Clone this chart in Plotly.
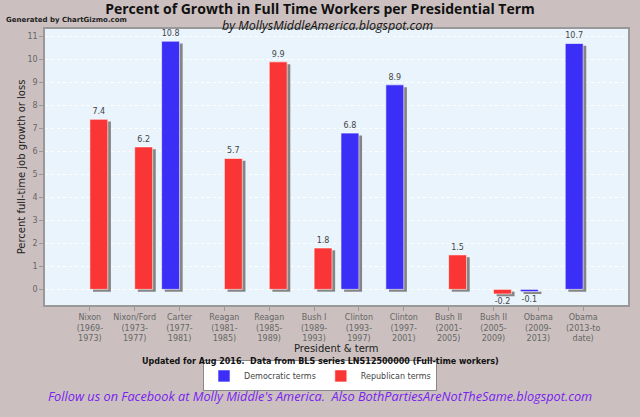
import plotly.graph_objects as go

presidents = ["Nixon", "Nixon/Ford", "Carter", "Reagan", "Reagan", "Bush I",
              "Clinton", "Clinton", "Bush II", "Bush II", "Obama", "Obama"]
terms = ["(1969-<br>1973)", "(1973-<br>1977)", "(1977-<br>1981)", "(1981-<br>1985)",
         "(1985-<br>1989)", "(1989-<br>1993)", "(1993-<br>1997)", "(1997-<br>2001)",
         "(2001-<br>2005)", "(2005-<br>2009)", "(2009-<br>2013)", "(2013-to<br>date)"]
growth = [7.4, 6.2, 10.8, 5.7, 9.9, 1.8, 6.8, 8.9, 1.5, -0.2, -0.1, 10.7]
party = ["R", "R", "D", "R", "R", "R", "D", "D", "R", "R", "D", "D"]

labels = [f"{p}<br>{t}" for p, t in zip(presidents, terms)]

BG = "#CBC0BF"
PLOT_BG = "#EAF4FD"
CHART_FONT = "DejaVu Sans"

series = {
    "D": dict(name="Democratic terms", color="#3A2EF7", offset=-0.4),
    "R": dict(name="Republican terms", color="#FA3535", offset=0.0),
}

fig = go.Figure()

# drop shadows first so the coloured bars sit on top
for key, s in series.items():
    xs = [l for l, p in zip(labels, party) if p == key]
    ys = [g for g, p in zip(growth, party) if p == key]
    fig.add_trace(go.Bar(x=xs, y=ys, base=-0.1, width=0.4, offset=s["offset"] + 0.07,
                         marker=dict(color="#858585", line_width=0),
                         showlegend=False, hoverinfo="skip"))

for key, s in series.items():
    xs = [l for l, p in zip(labels, party) if p == key]
    ys = [g for g, p in zip(growth, party) if p == key]
    fig.add_trace(go.Bar(x=xs, y=ys, name=s["name"], width=0.4, offset=s["offset"],
                         marker=dict(color=s["color"], line=dict(color="#FFFFFF", width=0.6)),
                         text=[f"{v:g}" for v in ys], textposition="outside",
                         textfont=dict(size=8, color="#444444", family=CHART_FONT),
                         cliponaxis=False))

fig.update_layout(
    width=640, height=417,
    margin=dict(l=45, r=12, t=29, b=112, autoexpand=False),
    paper_bgcolor=BG, plot_bgcolor=PLOT_BG,
    barmode="overlay",
    font=dict(family=CHART_FONT, size=8, color="#555555"),
    title=dict(text="<b>Percent of Growth in Full Time Workers per Presidential Term</b>",
               x=0.5, xanchor="center", y=1 - 9 / 417, yanchor="middle",
               font=dict(family="Open Sans", size=14, color="#111111")),
    legend=dict(orientation="h", x=0.4717, xanchor="center", y=-0.257, yanchor="middle",
                bgcolor="#FFFFFF", bordercolor="#888888", borderwidth=1,
                font=dict(size=8, color="#444444"), itemwidth=30, traceorder="normal"),
    showlegend=True,
)

fig.update_xaxes(categoryorder="array", categoryarray=labels, range=[-1, 12],
                 automargin=False,
                 showline=True, linecolor="#999999", linewidth=1.5, mirror=True,
                 ticks="outside", ticklen=4, tickcolor="#999999",
                 tickfont=dict(size=8, color="#666666"), tickangle=0)
fig.update_yaxes(range=[-0.68, 11.33], dtick=1, tick0=0, automargin=False,
                 showline=True, linecolor="#999999", linewidth=1.5, mirror=True,
                 ticks="outside", ticklen=4, tickcolor="#999999",
                 gridcolor="#FFFFFF", griddash="dot", gridwidth=1, zeroline=False,
                 tickfont=dict(size=8, color="#666666"),
                 title=dict(text="Percent full-time job growth or loss", standoff=0,
                            font=dict(size=10, color="#222222")))

notes = [
    dict(text="<b>Generated by ChartGizmo.com</b>", x=-0.0703, y=(305 - 20) / 276, xanchor="left",
         font=dict(size=7, color="#222222", family=CHART_FONT)),
    dict(text="<i>by MollysMiddleAmerica.blogspot.com</i>", x=0.485, y=(305 - 25.5) / 276,
         xanchor="center", font=dict(size=12.5, color="#111111", family="Open Sans")),
    dict(text="President &amp; term", x=0.5, y=-0.159, xanchor="center",
         font=dict(size=10, color="#222222", family=CHART_FONT)),
    dict(text="<b>Updated for Aug 2016.  Data from BLS series LNS12500000 (Full-time workers)</b>",
         x=0.4717, y=-0.2065, xanchor="center",
         font=dict(size=8, color="#111111", family=CHART_FONT)),
    dict(text="<i>Follow us on Facebook at Molly Middle's America.  Also BothPartiesAreNotTheSame.blogspot.com</i>",
         x=0.4725, y=(305 - 396) / 276, xanchor="center",
         font=dict(size=12.75, color="#7A22F0", family="Open Sans")),
]
for n in notes:
    fig.add_annotation(xref="paper", yref="paper", yanchor="middle", showarrow=False, **n)

# the page's default body margin would push the chart 8px right and down
fig.write_html("out.html", config={"displayModeBar": False},
               post_script="document.body.style.margin='0';document.body.style.overflow='hidden';")
